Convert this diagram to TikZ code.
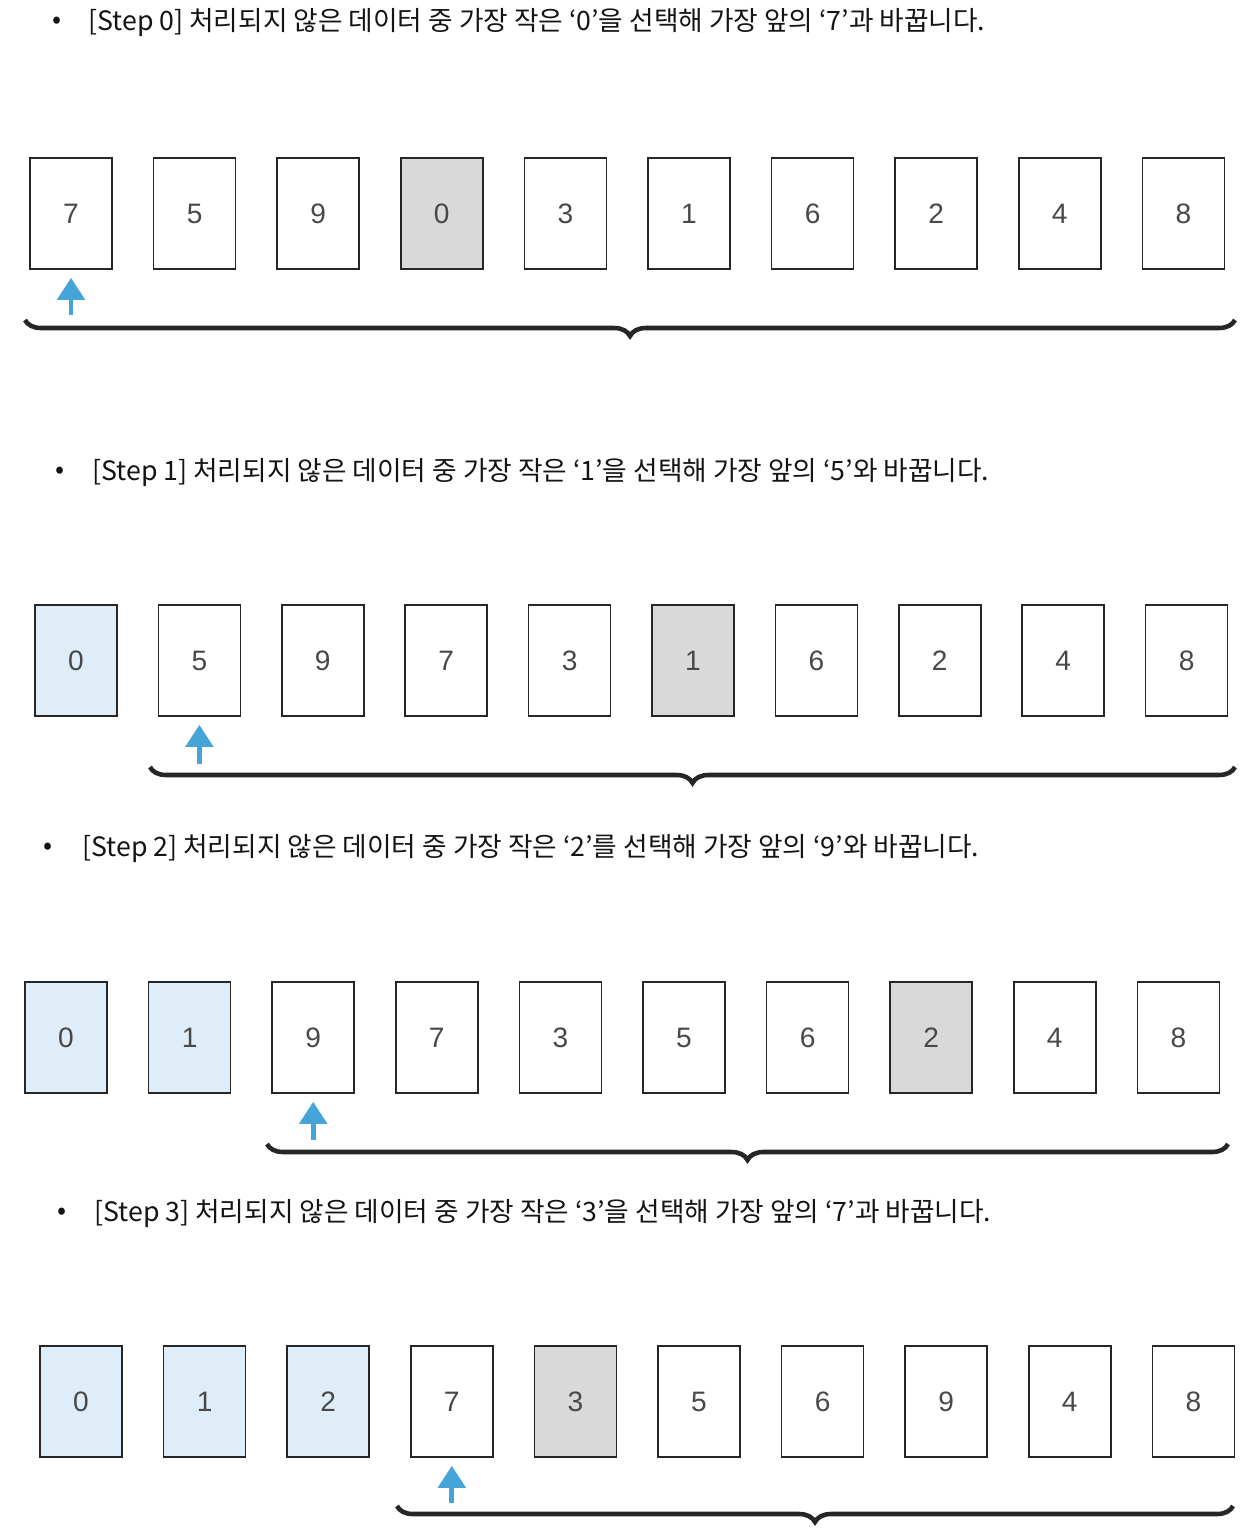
\documentclass[tikz,border=0pt]{standalone}
\usepackage{fontspec}
\newfontfamily\krfont{Noto Sans CJK KR}
\setsansfont{Liberation Sans}
\usetikzlibrary{arrows.meta,decorations.pathreplacing}

\definecolor{picked}{HTML}{D9D9D9}
\definecolor{sorted}{HTML}{DEEDF8}
\definecolor{pointer}{HTML}{45A5D8}
\definecolor{digit}{HTML}{484848}

\tikzset{
 card/.style={draw=black!85, line width=0.9pt, minimum width=1.64cm, minimum height=2.22cm,
   inner sep=0pt, font=\sffamily\fontsize{16}{16}\selectfont, text=digit},
 ptr/.style={draw=pointer, line width=2.8pt, shorten >=0.16cm,
   -{Triangle[length=0.44cm,width=0.54cm]}},
 brc/.style={decorate, decoration={brace, mirror, amplitude=0.32cm}, line width=2.6pt, black!85},
 title/.style={anchor=west, inner sep=0pt, text=black!92, font=\krfont\fontsize{15.2}{15.2}\selectfont},
}

\begin{document}
\begin{tikzpicture}[x=0.02cm, y=-0.02cm]
\useasboundingbox (0,0) rectangle (1248,1534);

% step 0
\node[title] (da) at (52,23) {•};
\node[title] (sa) at (88,23) {[Step 0] 처리되지 않은 데이터 중 가장 작은 ‘0’을 선택해 가장 앞의 ‘7’과 바꿉니다.};
\foreach \v/\f [count=\i] in {7/white,5/white,9/white,0/picked,3/white,1/white,6/white,2/white,4/white,8/white}
  \node[card, fill=\f] (a\i) at (71+123.6*\i-123.6, 213.5) {\v};
\coordinate (pa) at (71,315);
\draw[ptr] (pa) -- (a1.south);
\coordinate (la) at (25,320);
\coordinate (ra) at (1235,320);
\draw[brc] (la) -- (ra);

% step 1
\node[title] (db) at (55,473) {•};
\node[title] (sb) at (92,473) {[Step 1] 처리되지 않은 데이터 중 가장 작은 ‘1’을 선택해 가장 앞의 ‘5’와 바꿉니다.};
\foreach \v/\f [count=\i] in {0/sorted,5/white,9/white,7/white,3/white,1/picked,6/white,2/white,4/white,8/white}
  \node[card, fill=\f] (b\i) at (76+123.4*\i-123.4, 660.5) {\v};
\coordinate (pb) at (b2.south |- 0,764);
\draw[ptr] (pb) -- (b2.south);
\coordinate (lb) at (150,767);
\coordinate (rb) at (1235,767);
\draw[brc] (lb) -- (rb);

% step 2
\node[title] (dc) at (43,849) {•};
\node[title] (sc) at (82,849) {[Step 2] 처리되지 않은 데이터 중 가장 작은 ‘2’를 선택해 가장 앞의 ‘9’와 바꿉니다.};
\foreach \v/\f [count=\i] in {0/sorted,1/sorted,9/white,7/white,3/white,5/white,6/white,2/picked,4/white,8/white}
  \node[card, fill=\f] (c\i) at (66+123.6*\i-123.6, 1037.5) {\v};
\coordinate (pc) at (c3.south |- 0,1140);
\draw[ptr] (pc) -- (c3.south);
\coordinate (lc) at (267,1144);
\coordinate (rc) at (1228,1144);
\draw[brc] (lc) -- (rc);

% step 3
\node[title] (dd) at (57,1214) {•};
\node[title] (sd) at (94,1214) {[Step 3] 처리되지 않은 데이터 중 가장 작은 ‘3’을 선택해 가장 앞의 ‘7’과 바꿉니다.};
\foreach \v/\f [count=\i] in {0/sorted,1/sorted,2/sorted,7/white,3/picked,5/white,6/white,9/white,4/white,8/white}
  \node[card, fill=\f] (d\i) at (81+123.6*\i-123.6, 1401.5) {\v};
\coordinate (pd) at (d4.south |- 0,1503);
\draw[ptr] (pd) -- (d4.south);
\coordinate (ld) at (397,1506);
\coordinate (rd) at (1233,1506);
\draw[brc] (ld) -- (rd);

\end{tikzpicture}
\end{document}
